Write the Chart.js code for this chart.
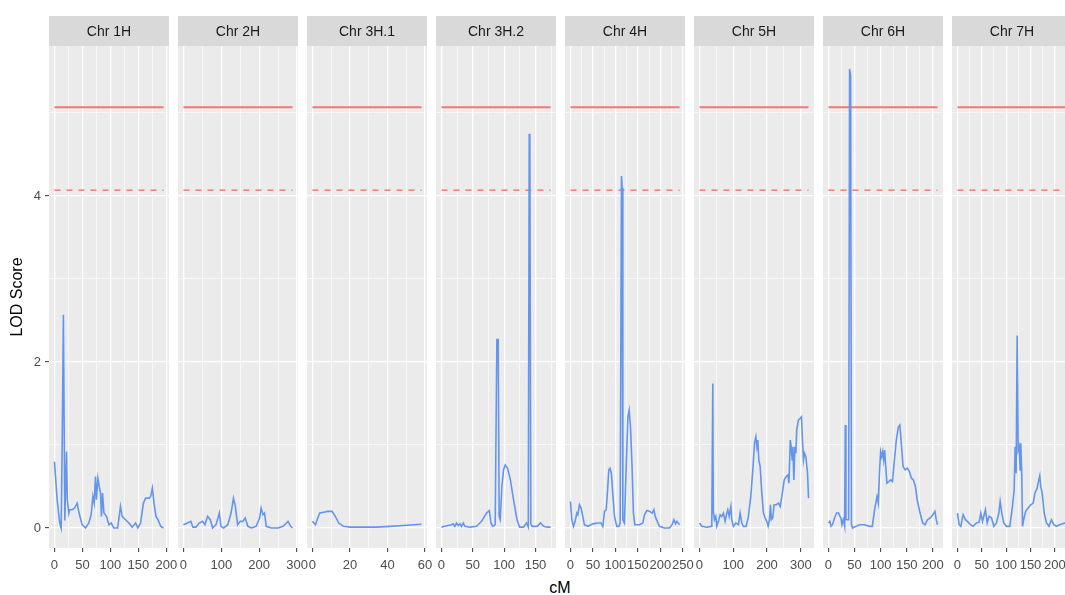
<!DOCTYPE html>
<html>
<head>
<meta charset="utf-8">
<script src="https://cdn.jsdelivr.net/npm/chart.js@4.4.1/dist/chart.umd.min.js"></script>
<style>
  html, body { margin: 0; padding: 0; background: #fff; overflow: hidden; }
  #wrap { position: relative; width: 1065px; height: 595px; overflow: hidden; }
  #wrap canvas { position: absolute; top: 0; }
  #xtitle { position: absolute; left: 510px; top: 579px; width: 100px; height: 18px;
            line-height: 18px; text-align: center; font: 16px "Liberation Sans", Arial, sans-serif; color: #000; }
</style>
</head>
<body>
<div id="wrap"><div id="xtitle">cM</div></div>
<script>
"use strict";

const panelNames = ['Chr 1H', 'Chr 2H', 'Chr 3H.1', 'Chr 3H.2', 'Chr 4H', 'Chr 5H', 'Chr 6H', 'Chr 7H'];

// LOD profiles, position in cM and score
const chr1H_cM  = [0, 4.8, 9.5, 12, 14, 16, 18.5, 21.5, 23, 25.7, 27, 31.6, 36, 40.6, 44, 49.5, 55.5, 61.5, 65.6, 68.7, 71, 73.4, 75, 77.6, 80, 82.4, 84, 86, 88.4, 93, 97.3, 101.5, 106, 113, 118, 121, 127, 133, 139, 145, 149, 154, 159, 163, 169, 172, 175, 178, 181.5, 185, 190, 195];
const chr1H_lod = [0.80, 0.34, 0.06, 0.0, 1.14, 2.57, 0.09, 0.92, 0.34, 0.18, 0.22, 0.22, 0.24, 0.30, 0.18, 0.04, 0.0, 0.06, 0.16, 0.38, 0.30, 0.62, 0.34, 0.60, 0.50, 0.42, 0.14, 0.42, 0.18, 0.14, 0.04, 0.06, 0.0, 0.0, 0.26, 0.14, 0.10, 0.06, 0.01, 0.06, 0.0, 0.06, 0.30, 0.36, 0.36, 0.38, 0.48, 0.30, 0.14, 0.10, 0.02, 0.0];

const chr2H_cM  = [0, 10.6, 19.5, 25, 33, 41.6, 50.4, 56.6, 63.7, 70.8, 77, 86, 94.7, 99, 106, 117, 125.7, 132, 137, 143, 150, 156.6, 163, 170, 179, 192, 201, 205, 210, 214, 218.6, 232, 249.6, 263, 272, 276, 283, 288];
const chr2H_lod = [0.04, 0.06, 0.08, 0.01, 0.01, 0.06, 0.08, 0.04, 0.14, 0.10, 0.0, 0.04, 0.18, 0.02, 0.0, 0.04, 0.18, 0.36, 0.26, 0.04, 0.08, 0.08, 0.12, 0.02, 0.0, 0.02, 0.12, 0.24, 0.16, 0.18, 0.02, 0.0, 0.0, 0.02, 0.06, 0.08, 0.02, 0.0];

const chr3H1_cM  = [0, 1.6, 2.5, 3.9, 6, 8.1, 10.4, 12.2, 14, 16.6, 20.2, 27.3, 34.3, 41.4, 48.5, 53.8, 58.2];
const chr3H1_lod = [0.08, 0.04, 0.10, 0.18, 0.19, 0.20, 0.20, 0.14, 0.06, 0.02, 0.01, 0.01, 0.01, 0.02, 0.03, 0.04, 0.045];

const chr3H2_cM  = [0, 5.4, 10.7, 16, 18.7, 21.4, 24, 26.8, 29.5, 32, 34.8, 37.5, 45.5, 56, 64, 72, 76.3, 79, 82, 85.7, 88.4, 90.5, 92, 93.7, 96.4, 99, 101.7, 105.5, 110, 115, 120.5, 124.8, 131, 135.5, 138.5, 140, 141, 142.5, 144.6, 152.7, 158, 163, 168.7, 174];
const chr3H2_lod = [0.01, 0.02, 0.03, 0.04, 0.05, 0.02, 0.06, 0.03, 0.05, 0.02, 0.06, 0.02, 0.01, 0.02, 0.08, 0.18, 0.21, 0.06, 0.02, 0.04, 2.27, 2.27, 0.14, 0.10, 0.50, 0.70, 0.76, 0.72, 0.58, 0.34, 0.10, 0.01, 0.01, 0.06, 0.01, 4.75, 4.60, 0.05, 0.02, 0.02, 0.06, 0.02, 0.01, 0.01];

const chr4H_cM  = [0, 3, 6.7, 10.4, 14, 16.3, 20, 23.7, 27.4, 31, 38.6, 49.7, 60.8, 68, 72, 75.7, 79.4, 81.6, 85.3, 88, 91, 94, 98, 103, 107.6, 110.5, 113.5, 115, 116.5, 120, 124, 127.7, 130.6, 133.5, 137, 140, 143, 153.6, 161, 164.7, 170, 176, 181.7, 185.5, 188.4, 193, 198, 209, 220, 226, 230, 233.7, 236.6, 242.6];
const chr4H_lod = [0.32, 0.10, 0.02, 0.08, 0.18, 0.16, 0.28, 0.24, 0.14, 0.04, 0.02, 0.05, 0.06, 0.06, 0.02, 0.20, 0.22, 0.38, 0.70, 0.72, 0.66, 0.42, 0.14, 0.02, 0.02, 0.06, 4.24, 4.10, 0.10, 0.06, 0.74, 1.34, 1.42, 1.22, 0.74, 0.18, 0.04, 0.04, 0.06, 0.16, 0.21, 0.20, 0.18, 0.22, 0.14, 0.08, 0.02, 0.0, 0.0, 0.04, 0.10, 0.05, 0.08, 0.04];

const chr5H_cM  = [0, 7, 21.7, 36.5, 39.5, 41, 44.4, 48.4, 51.3, 56.3, 61.2, 66, 71, 76, 81, 84, 88, 93, 95.7, 100.7, 107.6, 115.5, 120.4, 125.4, 130.3, 138.2, 145, 152, 158, 163, 167, 170, 172.7, 175.7, 179.7, 184.6, 189.5, 194.5, 199.4, 203.4, 207.3, 210.3, 213, 217, 221, 227, 234, 239, 244, 251, 257, 262, 265, 269, 271.5, 274.6, 276.5, 279.5, 282.5, 285.5, 288, 293, 298, 302, 305, 308, 311, 315, 320, 323];
const chr5H_lod = [0.06, 0.02, 0.01, 0.02, 1.74, 0.20, 0.10, 0.14, 0.02, 0.08, 0.16, 0.14, 0.18, 0.08, 0.18, 0.22, 0.14, 0.26, 0.10, 0.02, 0.06, 0.04, 0.18, 0.06, 0.02, 0.02, 0.14, 0.38, 0.70, 1.02, 1.10, 0.98, 1.06, 0.82, 0.74, 0.42, 0.18, 0.12, 0.08, 0.02, 0.10, 0.28, 0.10, 0.12, 0.28, 0.28, 0.30, 0.26, 0.38, 0.58, 0.62, 0.64, 0.54, 1.06, 0.98, 0.82, 0.98, 0.58, 0.98, 0.90, 1.18, 1.30, 1.32, 1.34, 1.06, 0.82, 0.90, 0.86, 0.66, 0.36];

const chr6H_cM  = [0, 2.6, 5, 7.7, 11.6, 15.5, 19.4, 22, 24, 25.8, 28.4, 31, 32.3, 33.5, 36, 38.7, 40.5, 42.5, 44, 46, 52.9, 59, 69, 78.7, 84, 88.4, 93, 95.5, 98, 100, 102, 104, 105.8, 107.7, 109.7, 112, 116, 119, 122.6, 125.8, 130, 134, 136.8, 139, 143, 147, 151, 155, 159, 162.6, 166.5, 170, 175.5, 180.6, 185, 189.7, 194.8, 200, 204, 206.5, 209];
const chr6H_lod = [0.06, 0.08, 0.02, 0.04, 0.12, 0.18, 0.18, 0.14, 0.12, 0.04, 0.10, 0.02, 1.24, 0.10, 0.10, 0.10, 5.53, 5.45, 0.05, 0.0, 0.02, 0.04, 0.04, 0.02, 0.02, 0.22, 0.38, 0.30, 0.70, 0.92, 0.86, 0.92, 0.82, 0.94, 0.74, 0.54, 0.56, 0.58, 0.56, 0.78, 1.06, 1.22, 1.24, 1.06, 0.74, 0.70, 0.72, 0.68, 0.60, 0.58, 0.50, 0.34, 0.18, 0.06, 0.04, 0.10, 0.12, 0.16, 0.20, 0.10, 0.04];

const chr7H_cM  = [0, 3.4, 6.8, 11.6, 16.4, 22, 26.7, 32, 39, 44.5, 48, 51.4, 54.8, 57.5, 61, 65, 70, 74.7, 80, 85, 87.7, 91, 95, 100.7, 107.5, 113, 116.4, 118.5, 120.5, 122.6, 124.7, 126.7, 128.8, 130, 132, 133.6, 136, 140, 145, 150.5, 155.5, 159, 163.7, 167, 169, 171, 174, 178, 182.9, 188, 193, 198, 203, 210, 220.5, 224];
const chr7H_lod = [0.18, 0.04, 0.02, 0.16, 0.10, 0.07, 0.04, 0.02, 0.06, 0.07, 0.18, 0.08, 0.16, 0.22, 0.06, 0.14, 0.12, 0.02, 0.06, 0.18, 0.32, 0.18, 0.06, 0.02, 0.02, 0.26, 0.46, 0.98, 0.66, 2.32, 0.94, 0.98, 0.70, 1.02, 0.66, 0.02, 0.10, 0.20, 0.24, 0.28, 0.30, 0.42, 0.48, 0.58, 0.63, 0.50, 0.42, 0.18, 0.06, 0.02, 0.10, 0.04, 0.02, 0.04, 0.06, 0.06];

// thresholds (solid / dashed)
const lodThreshold = 5.07;
const lodSuggestive = 4.07;

// axis breaks
const majorTicks = [[0, 50, 100, 150, 200], [0, 100, 200, 300], [0, 20, 40, 60], [0, 50, 100, 150],
                    [0, 50, 100, 150, 200, 250], [0, 100, 200, 300], [0, 50, 100, 150, 200], [0, 50, 100, 150, 200]];
const minorTicks = [[25, 75, 125, 175], [50, 150, 250], [10, 30, 50], [25, 75, 125, 175],
                    [25, 75, 125, 175, 225], [50, 150, 250], [25, 75, 125, 175], [25, 75, 125, 175, 225]];
const yMajor = [0, 2, 4];
const yMinor = [1, 3, 5];

const profiles = [
  [chr1H_cM, chr1H_lod], [chr2H_cM, chr2H_lod], [chr3H1_cM, chr3H1_lod], [chr3H2_cM, chr3H2_lod],
  [chr4H_cM, chr4H_lod], [chr5H_cM, chr5H_lod], [chr6H_cM, chr6H_lod], [chr7H_cM, chr7H_lod]
];

// layout
const FONT = '"Liberation Sans", Arial, Helvetica, sans-serif';
const PANEL_X0 = 49, PANEL_W = 120, PANEL_STEP = 129;
const STRIP_TOP = 16, PANEL_TOP = 46, PANEL_BOTTOM = 548, H = 595;
const BLUE = '#6495ED', RED = '#F07A70';

Chart.defaults.font.family = FONT;

// grey panel + strip label, drawn before the grid
const facetPlugin = {
  id: 'facet',
  beforeDraw(chart, args, opts) {
    const ctx = chart.ctx, a = chart.chartArea;
    ctx.save();
    ctx.fillStyle = '#EBEBEB';
    ctx.fillRect(a.left, a.top, a.right - a.left, a.bottom - a.top);
    ctx.fillStyle = '#D9D9D9';
    ctx.fillRect(a.left, STRIP_TOP, a.right - a.left, a.top - STRIP_TOP);
    ctx.fillStyle = '#1A1A1A';
    ctx.font = '14px ' + FONT;
    ctx.textAlign = 'center';
    ctx.textBaseline = 'middle';
    ctx.fillText(opts.label, (a.left + a.right) / 2, (STRIP_TOP + a.top) / 2 + 1);
    ctx.restore();
  }
};

const wrap = document.getElementById('wrap');

function makePanel(i) {
  const first = i === 0;
  const cm = profiles[i][0], lod = profiles[i][1];
  const left = PANEL_X0 + i * PANEL_STEP;
  const padL = first ? 0 : 20, padR = 20;
  const canvasLeft = first ? 0 : left - padL;
  const canvasW = (left - canvasLeft) + PANEL_W + padR;

  const canvas = document.createElement('canvas');
  canvas.width = canvasW;
  canvas.height = H;
  canvas.style.left = canvasLeft + 'px';
  canvas.style.width = canvasW + 'px';
  canvas.style.height = H + 'px';
  wrap.appendChild(canvas);

  const xmin = cm[0], xmax = cm[cm.length - 1];
  const ex = (xmax - xmin) * 0.05;
  const major = majorTicks[i];
  const xTicks = major.concat(minorTicks[i]).sort((a, b) => a - b);

  const yScale = {
    position: 'left',
    min: -0.241,
    max: 5.807,
    afterBuildTicks: s => { s.ticks = yMajor.concat(yMinor).sort((a, b) => a - b).map(v => ({ value: v })); },
    afterFit: s => { s.width = first ? PANEL_X0 : 0; },
    border: { display: false },
    grid: {
      color: '#FFFFFF',
      lineWidth: c => (yMajor.includes(c.tick.value) ? 1.3 : 0.6),
      drawTicks: first,
      tickLength: 4,
      tickColor: c => (yMajor.includes(c.tick.value) ? '#333333' : 'rgba(0,0,0,0)'),
      tickWidth: 1
    },
    ticks: {
      display: first,
      padding: 4,
      color: '#4D4D4D',
      font: { size: 13 },
      callback: v => (yMajor.includes(v) ? String(v) : '')
    },
    title: {
      display: first,
      text: 'LOD Score',
      color: '#000000',
      font: { size: 16 },
      padding: { top: 8, bottom: 0 }
    }
  };

  new Chart(canvas, {
    type: 'line',
    data: {
      datasets: [
        { data: cm.map((x, k) => ({ x: x, y: lod[k] })), borderColor: BLUE, borderWidth: 1.6,
          pointRadius: 0, tension: 0, order: 0 },
        { data: [{ x: xmin, y: lodThreshold }, { x: xmax, y: lodThreshold }], borderColor: RED,
          borderWidth: 2, pointRadius: 0, order: 1 },
        { data: [{ x: xmin, y: lodSuggestive }, { x: xmax, y: lodSuggestive }], borderColor: RED,
          borderWidth: 1.5, borderDash: [6, 6], pointRadius: 0, order: 2 }
      ]
    },
    options: {
      responsive: false,
      animation: false,
      events: [],
      layout: { padding: { left: padL, right: padR, top: PANEL_TOP, bottom: 0 } },
      plugins: {
        legend: { display: false },
        tooltip: { enabled: false },
        facet: { label: panelNames[i] }
      },
      scales: {
        x: {
          type: 'linear',
          min: xmin - ex,
          max: xmax + ex,
          afterBuildTicks: s => { s.ticks = xTicks.map(v => ({ value: v })); },
          afterFit: s => { s.height = H - PANEL_BOTTOM; },
          border: { display: false },
          grid: {
            color: '#FFFFFF',
            lineWidth: c => (major.includes(c.tick.value) ? 1.3 : 0.6),
            drawTicks: true,
            tickLength: 4,
            tickColor: c => (major.includes(c.tick.value) ? '#333333' : 'rgba(0,0,0,0)'),
            tickWidth: 1
          },
          ticks: {
            autoSkip: false,
            maxRotation: 0,
            minRotation: 0,
            padding: 6,
            color: '#4D4D4D',
            font: { size: 13 },
            callback: v => (major.includes(v) ? String(v) : '')
          }
        },
        y: yScale
      }
    },
    plugins: [facetPlugin]
  });
}

for (let i = 0; i < panelNames.length; i++) makePanel(i);
</script>
</body>
</html>
